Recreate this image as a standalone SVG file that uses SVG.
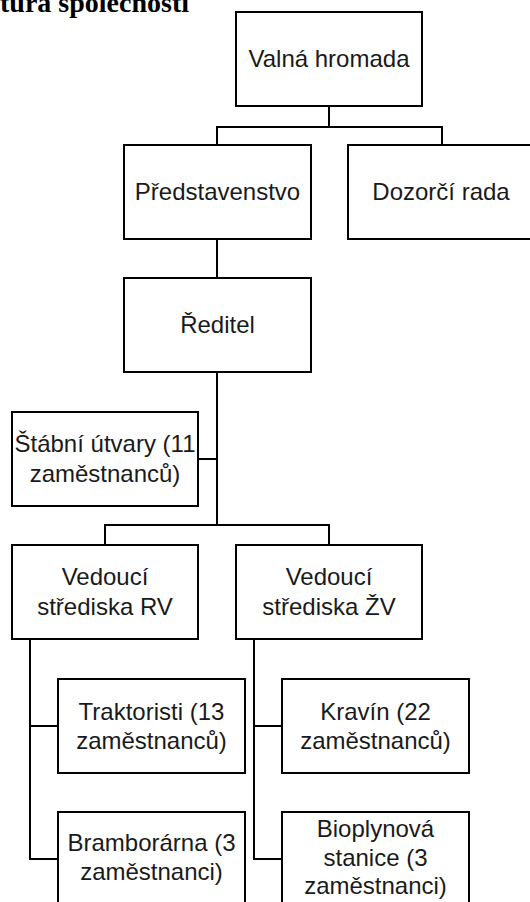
<svg xmlns="http://www.w3.org/2000/svg" width="530" height="902" viewBox="0 0 530 902">
<style>
.box{fill:#fff;stroke:#000;stroke-width:2}
.t{font-family:"Liberation Sans",Arial,sans-serif;font-size:24px;fill:#1a1a1a;text-anchor:middle}
.c{fill:none;stroke:#000;stroke-width:2}
.title{font-family:"Liberation Serif","Times New Roman",serif;font-size:28px;font-weight:bold;fill:#000}
</style>
<rect width="530" height="902" fill="#fff"/>
<text class="title" x="0" y="12">tura společnosti</text>
<g id="connectors">
<path class="c" d="M329 106V127M217 145V127H442V145"/>
<path class="c" d="M217 239V278"/>
<path class="c" d="M217 372V525M198 459H217M105 545V525H329V545"/>
<path class="c" d="M30 639V859H58M30 726H58"/>
<path class="c" d="M254 639V859H282M254 726H282"/>
</g>
<g id="valna"><rect class="box" x="236" y="12" width="186" height="94"/><text class="t" x="329" y="67">Valná hromada</text></g>
<g id="predstavenstvo"><rect class="box" x="124" y="145" width="187" height="94"/><text class="t" x="217.5" y="200">Představenstvo</text></g>
<g id="dozorci"><rect class="box" x="348" y="145" width="187" height="94"/><text class="t" x="441" y="200">Dozorčí rada</text></g>
<g id="reditel"><rect class="box" x="124" y="278" width="187" height="94"/><text class="t" x="217.5" y="333">Ředitel</text></g>
<g id="stabni"><rect class="box" x="12" y="412" width="186" height="94"/><text class="t" x="105" y="452">Štábní útvary (11</text><text class="t" x="105" y="482">zaměstnanců)</text></g>
<g id="vedouci-rv"><rect class="box" x="12" y="545" width="186" height="94"/><text class="t" x="105" y="585">Vedoucí</text><text class="t" x="105" y="615">střediska RV</text></g>
<g id="vedouci-zv"><rect class="box" x="236" y="545" width="186" height="94"/><text class="t" x="329" y="585">Vedoucí</text><text class="t" x="329" y="615">střediska ŽV</text></g>
<g id="traktoriste"><rect class="box" x="58" y="679" width="187" height="94"/><text class="t" x="151.5" y="720">Traktoristi (13</text><text class="t" x="151.5" y="749">zaměstnanců)</text></g>
<g id="kravin"><rect class="box" x="282" y="679" width="187" height="94"/><text class="t" x="375.5" y="720">Kravín (22</text><text class="t" x="375.5" y="749">zaměstnanců)</text></g>
<g id="bramborarna"><rect class="box" x="58" y="812" width="187" height="100"/><text class="t" x="151.5" y="851">Bramborárna (3</text><text class="t" x="151.5" y="880">zaměstnanci)</text></g>
<g id="bioplynova"><rect class="box" x="282" y="812" width="187" height="100"/><text class="t" x="375.5" y="837">Bioplynová</text><text class="t" x="375.5" y="866">stanice (3</text><text class="t" x="375.5" y="894">zaměstnanci)</text></g>
</svg>
